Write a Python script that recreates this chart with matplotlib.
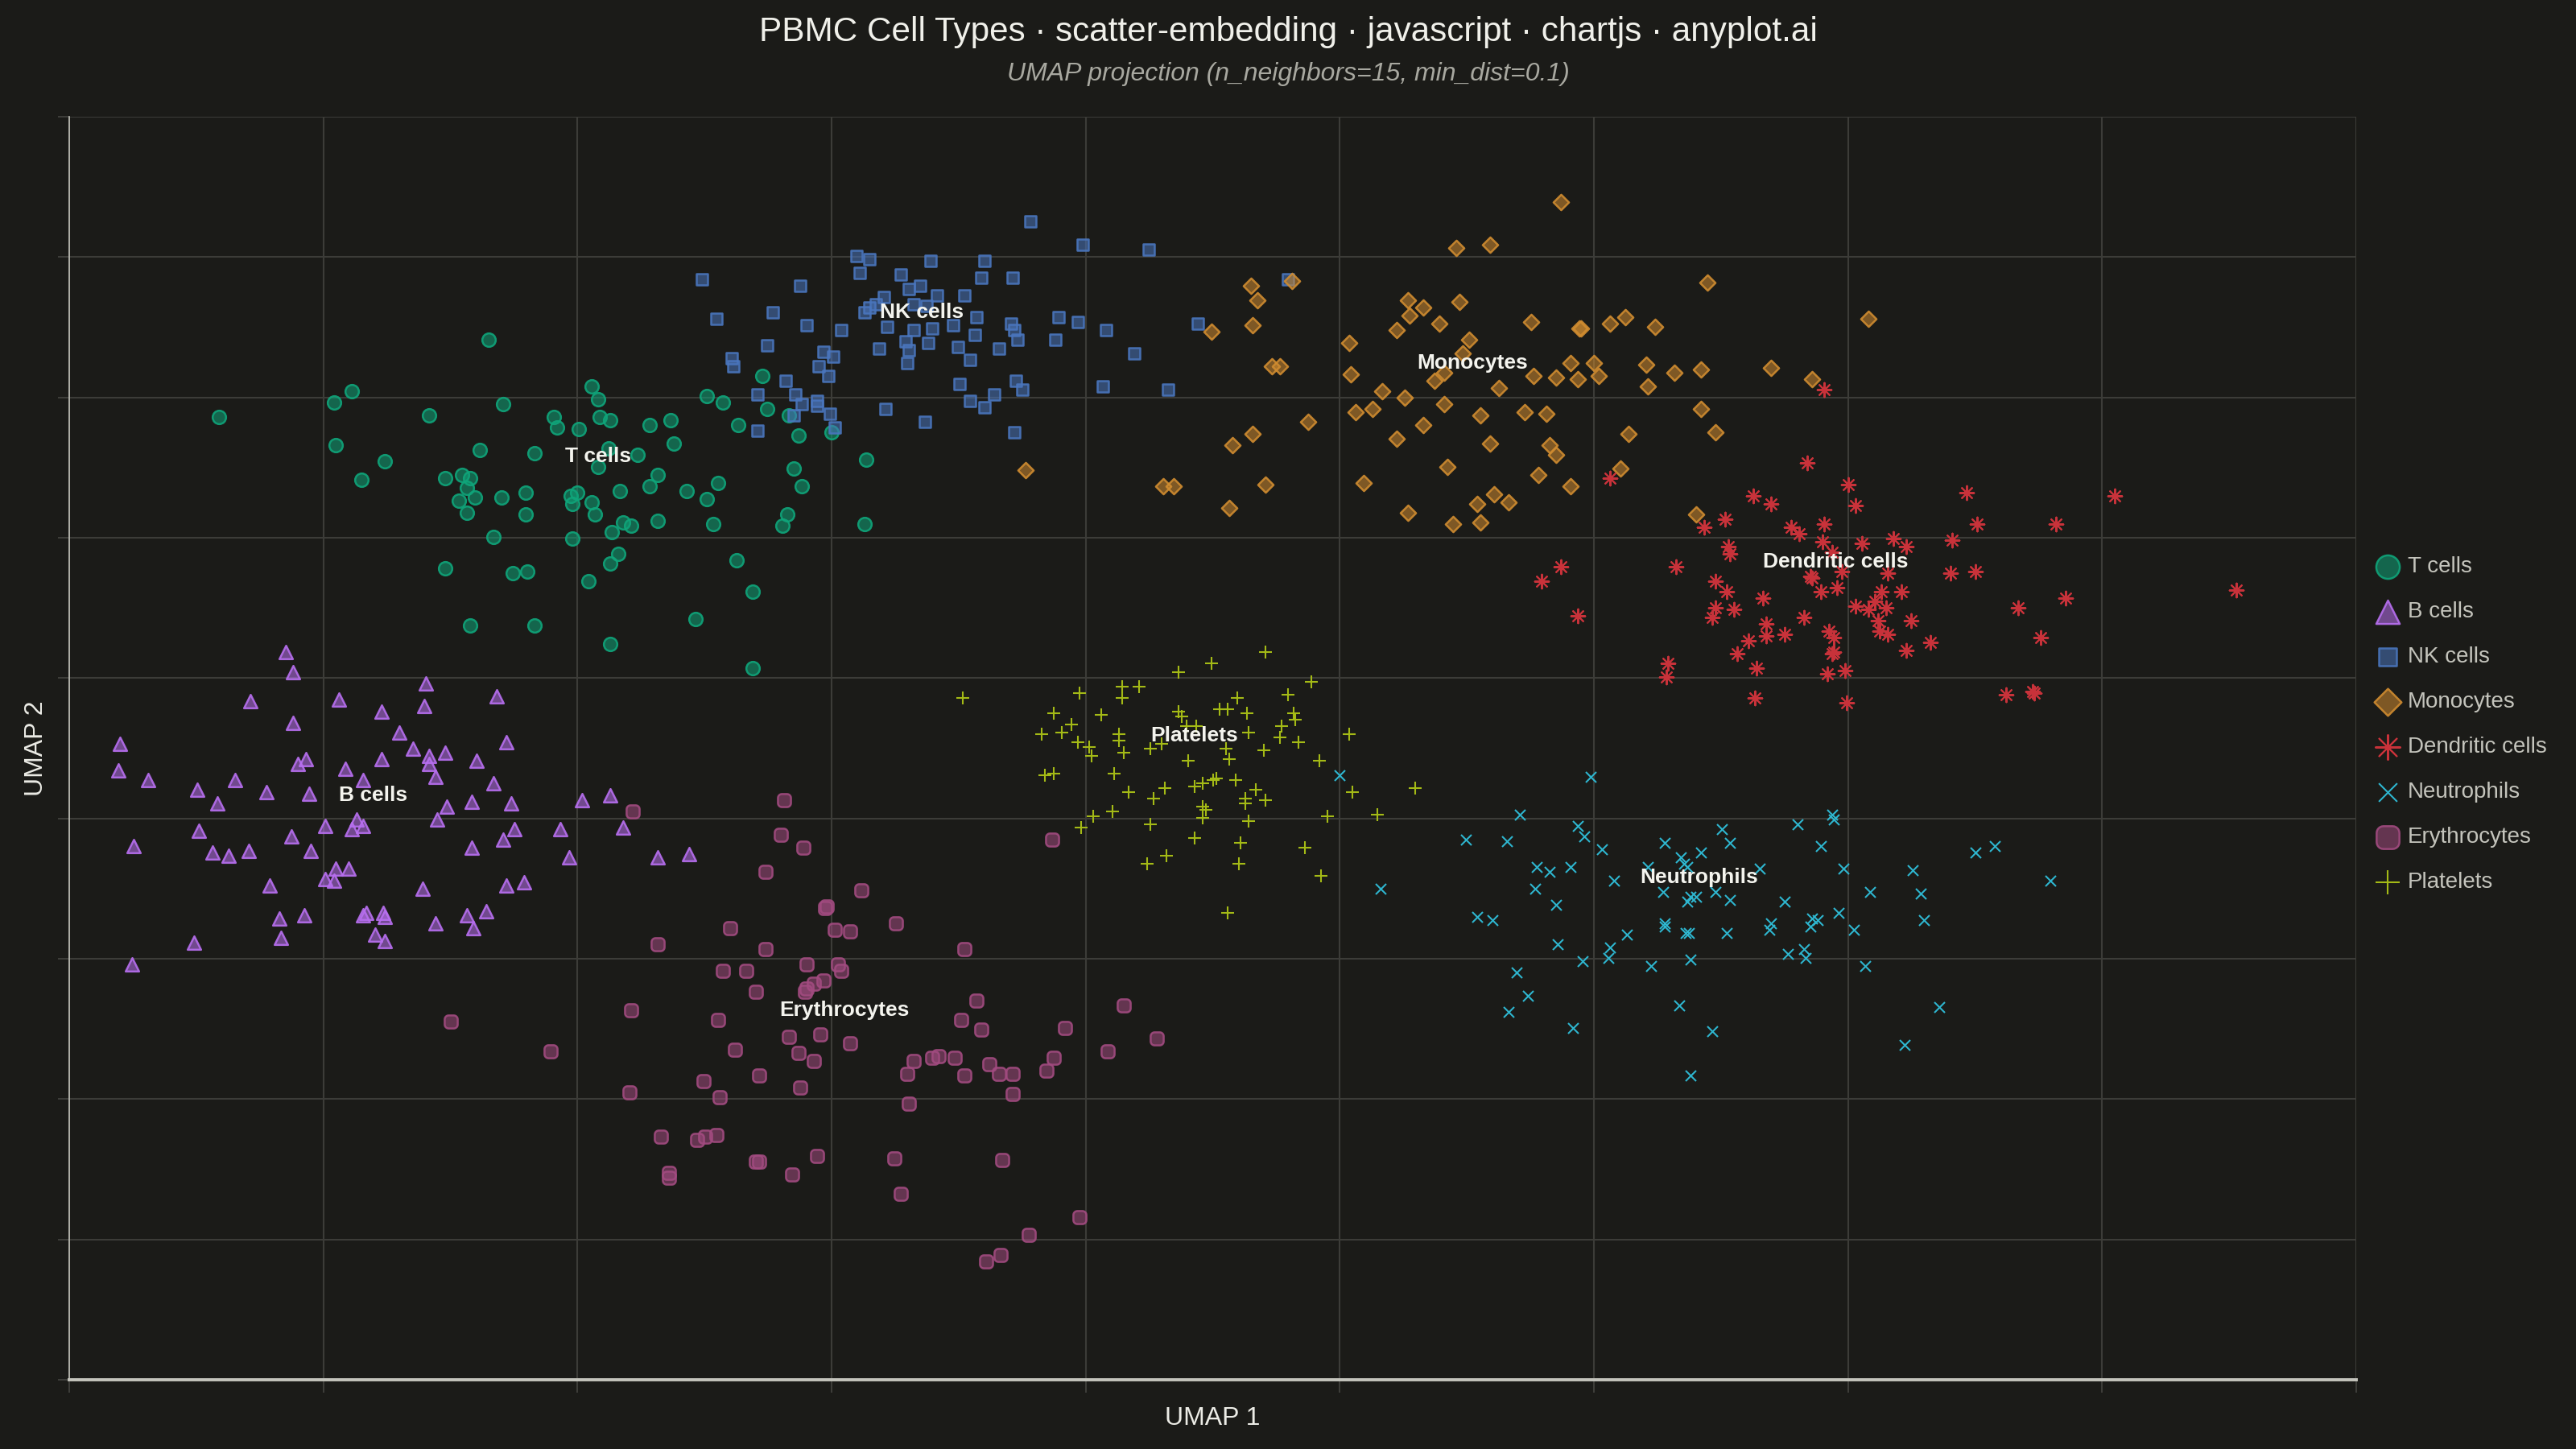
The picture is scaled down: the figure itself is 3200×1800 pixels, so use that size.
import matplotlib
matplotlib.use("Agg")
import matplotlib.pyplot as plt
from matplotlib.path import Path
import numpy as np

plt.rcParams['font.family'] = ['Liberation Sans', 'DejaVu Sans']

BG = '#1b1b18'

# embedding coordinates (arbitrary UMAP units)
t_x = [9.1, 25.5, 17.2, 16.1, 16.2, 19.2, 17.8, 21.9, 26.4, 25.0, 22.9, 23.9, 24.4, 24.2, 23.7, 24.7,
       24.2, 26.3, 27.8, 27.8, 28.3, 29.5, 29.7, 31.0, 31.8, 32.2, 32.3, 32.9, 32.8, 34.6, 32.2, 30.5,
       30.9, 30.6, 31.8, 32.0, 33.5, 35.3, 36.6, 36.8, 35.8, 35.3, 37.6, 39.5, 38.8, 33.7, 34.2, 33.0,
       35.8, 39.2, 30.6, 25.8, 33.4, 32.9, 22.9, 27.0, 27.9, 31.6, 40.6, 41.6, 38.1, 24.4, 28.3, 32.9,
       41.6, 38.8, 39.8, 42.2, 40.7, 42.5, 43.8, 44.4, 46.4, 44.1, 44.6, 43.7, 43.4, 48.5, 48.4]
t_y = [58.6, 63.3, 60.2, 59.5, 56.9, 55.9, 54.8, 58.7, 59.4, 56.6, 54.9, 55.1, 54.9, 54.3, 53.5, 53.7,
       52.8, 53.7, 54.0, 52.7, 56.4, 58.6, 58.0, 57.9, 60.5, 59.7, 58.6, 58.4, 56.7, 56.3, 55.6, 53.8,
       54.0, 53.3, 53.4, 52.7, 54.1, 58.1, 58.4, 57.0, 55.1, 54.4, 54.1, 54.6, 53.6, 52.2, 52.0, 51.6,
       52.3, 52.1, 51.2, 51.3, 50.3, 49.7, 49.4, 49.1, 49.2, 48.6, 49.9, 48.0, 46.3, 45.9, 45.9, 44.8,
       43.3, 59.9, 59.5, 61.1, 58.1, 59.1, 58.7, 57.5, 57.7, 55.5, 54.4, 52.7, 52.0, 56.0, 52.1]

b_x = [13.2, 13.6, 21.7, 11.0, 16.4, 26.0, 19.0, 21.6, 13.6, 20.1, 3.1, 26.6, 20.9, 21.9, 22.9, 21.9,
       14.4, 13.9, 19.0, 24.8, 3.0, 16.8, 4.8, 10.1, 17.9, 22.3, 25.8, 7.8, 12.0, 14.6, 9.0, 23.0,
       24.5, 26.9, 31.2, 32.9, 17.5, 17.9, 17.2, 15.6, 22.4, 7.9, 27.1, 29.9, 33.7, 13.5, 26.4, 3.9,
       8.7, 9.7, 10.9, 14.7, 24.5, 30.4, 35.8, 37.7, 16.2, 17.0, 15.6, 16.1, 12.2, 21.5, 26.6, 27.7,
       12.8, 14.3, 17.9, 18.1, 19.1, 19.2, 24.2, 25.4, 22.3, 24.6, 18.6, 19.2, 7.6, 12.9, 3.8]
b_y = [44.3, 43.1, 42.4, 41.3, 41.4, 41.6, 40.7, 41.0, 40.0, 39.4, 38.7, 38.8, 38.4, 38.0, 38.2, 37.5,
       37.8, 37.5, 37.8, 37.7, 37.1, 37.2, 36.5, 36.5, 36.5, 36.7, 36.3, 35.9, 35.8, 35.7, 35.1, 34.9,
       35.2, 35.1, 35.3, 35.6, 34.1, 33.7, 33.5, 33.7, 34.1, 33.4, 33.5, 33.5, 33.6, 33.1, 32.9, 32.5,
       32.1, 31.9, 32.2, 32.2, 32.4, 31.8, 31.8, 32.0, 31.1, 31.1, 30.5, 30.4, 30.1, 29.9, 30.1, 30.3,
       28.1, 28.3, 28.3, 28.4, 28.4, 28.2, 28.3, 28.5, 27.8, 27.5, 27.1, 26.7, 26.6, 26.9, 25.3]

nk_x = [58.5, 61.7, 65.7, 47.9, 48.7, 52.4, 55.7, 38.5, 48.1, 50.6, 55.5, 57.4, 44.5, 51.1, 51.8, 52.8,
        54.5, 49.6, 49.1, 48.7, 48.4, 51.4, 52.2, 39.4, 42.8, 55.2, 44.9, 47.0, 49.8, 51.4, 52.5, 53.8,
        57.3, 57.5, 60.2, 61.4, 63.1, 68.7, 74.2, 42.5, 50.9, 52.3, 54.1, 55.1, 56.6, 57.7, 60.0, 49.3,
        51.1, 40.3, 40.4, 45.9, 46.5, 45.6, 46.2, 51.0, 54.8, 64.8, 43.6, 41.9, 44.2, 45.5, 45.5, 44.6,
        46.3, 44.1, 46.6, 41.9, 49.7, 52.1, 54.2, 57.6, 58.0, 56.3, 54.8, 55.7, 57.5, 62.9, 66.9]
nk_y = [70.5, 69.1, 68.8, 68.4, 68.2, 68.1, 68.1, 67.0, 67.4, 67.3, 67.1, 67.1, 66.6, 66.4, 66.6, 66.0,
        66.0, 65.9, 65.5, 65.3, 65.0, 65.5, 65.4, 64.6, 65.0, 64.7, 64.2, 63.9, 64.1, 63.9, 64.0, 64.2,
        64.3, 63.9, 64.7, 64.4, 63.9, 64.3, 67.0, 63.0, 63.2, 63.1, 62.9, 63.6, 62.8, 63.3, 63.3, 62.8,
        62.7, 62.2, 61.7, 62.6, 62.3, 61.7, 61.1, 61.9, 62.1, 62.5, 60.8, 60.0, 60.0, 59.6, 59.3, 59.4,
        58.8, 58.7, 58.0, 57.8, 59.1, 58.3, 60.6, 60.8, 60.3, 60.0, 59.6, 59.2, 57.7, 60.5, 60.3]

mono_x = [90.8, 84.4, 86.5, 74.4, 71.9, 72.3, 99.7, 81.5, 82.4, 81.6, 84.6, 72.0, 69.5, 89.0, 91.9, 92.0,
          93.8, 94.7, 96.5, 109.5, 80.8, 83.4, 85.2, 77.9, 84.8, 73.2, 73.7, 78.0, 83.7, 91.4, 92.8, 96.0,
          97.7, 99.3, 103.6, 106.1, 89.1, 90.5, 91.8, 93.1, 96.1, 83.1, 87.0, 79.9, 81.3, 83.7, 78.3, 79.3,
          85.9, 88.6, 89.9, 99.3, 100.2, 94.9, 75.4, 82.4, 72.0, 70.8, 80.8, 86.5, 90.1, 90.5, 83.9, 94.4,
          89.4, 91.4, 58.2, 66.6, 67.2, 72.8, 78.8, 86.7, 87.6, 85.7, 70.6, 81.5, 84.2, 85.9, 99.0]
mono_y = [71.7, 68.9, 69.1, 66.9, 66.6, 65.7, 66.8, 65.7, 65.3, 64.8, 65.6, 64.2, 63.8, 64.4, 64.0, 64.0,
          64.3, 64.7, 64.1, 64.6, 63.9, 64.3, 63.3, 63.1, 62.5, 61.7, 61.7, 61.2, 61.3, 61.9, 61.9, 61.8,
          61.3, 61.5, 61.6, 60.9, 61.1, 61.0, 60.9, 61.1, 60.5, 60.8, 60.4, 60.2, 59.8, 59.4, 58.9, 59.1,
          58.7, 58.9, 58.8, 59.1, 57.7, 57.6, 58.3, 58.1, 57.6, 56.9, 57.3, 57.0, 56.9, 56.3, 55.6, 55.5,
          55.1, 54.4, 55.4, 54.4, 54.4, 54.5, 54.6, 53.9, 53.4, 53.3, 53.1, 52.8, 52.1, 52.2, 52.7]

dc_x = [106.8, 105.8, 93.8, 108.3, 115.5, 124.5, 102.5, 103.6, 108.7, 100.8, 99.5, 106.8, 104.8, 105.3,
        116.1, 120.9, 106.7, 109.1, 111.0, 111.8, 114.6, 101.0, 101.1, 107.3, 90.8, 97.8, 89.6, 106.0,
        106.1, 107.9, 110.7, 114.5, 116.0, 100.2, 100.9, 103.1, 106.6, 107.6, 110.3, 111.5, 131.9, 121.5,
        100.2, 101.3, 108.7, 109.5, 109.9, 110.6, 118.6, 91.8, 100.0, 105.6, 110.1, 112.1, 103.3, 107.1,
        107.4, 104.4, 103.3, 110.2, 110.7, 120.0, 102.2, 113.3, 107.4, 107.3, 111.8, 101.5, 97.3, 97.2,
        102.7, 107.0, 108.1, 102.6, 108.2, 117.9, 119.5, 119.6]
dc_y = [60.3, 55.8, 54.9, 54.5, 54.0, 53.8, 53.8, 53.3, 53.2, 52.4, 51.9, 52.1, 51.9, 51.5,
        52.1, 52.1, 51.0, 50.9, 51.2, 50.7, 51.1, 50.7, 50.3, 50.4, 49.5, 49.5, 48.6, 48.9,
        48.8, 49.2, 49.1, 49.1, 49.2, 48.6, 48.0, 47.6, 48.0, 48.2, 48.0, 48.0, 48.1, 47.6,
        47.0, 46.9, 47.1, 46.9, 47.4, 47.0, 47.0, 46.5, 46.4, 46.4, 46.2, 46.2, 46.0, 45.6,
        45.2, 45.4, 45.3, 45.6, 45.4, 45.2, 45.0, 44.9, 44.3, 44.2, 44.4, 44.2, 43.6, 42.8,
        43.3, 43.0, 43.2, 41.5, 41.2, 41.7, 41.9, 41.8]

neu_x = [77.3, 92.6, 88.3, 91.8, 92.2, 85.0, 87.5, 93.3, 100.6, 105.2, 107.3, 107.4, 97.1, 101.1, 106.6,
         116.0, 117.2, 99.3, 98.1, 98.3, 98.5, 89.3, 90.1, 91.4, 102.9, 108.0, 112.2, 120.6, 94.0, 79.8,
         89.2, 97.0, 98.7, 99.0, 98.5, 100.2, 101.1, 104.4, 109.6, 112.7, 90.5, 85.7, 86.6, 107.7, 106.1,
         106.4, 106.0, 97.1, 97.1, 103.6, 103.5, 108.6, 112.9, 94.8, 98.4, 98.6, 100.9, 90.6, 93.8, 93.7,
         92.1, 96.3, 98.7, 104.6, 105.6, 105.7, 109.3, 88.1, 88.8, 87.6, 98.0, 113.8, 91.5, 100.0, 111.7,
         98.7, 96.1]
neu_y = [36.8, 36.7, 34.4, 33.7, 33.1, 32.9, 32.8, 32.3, 33.5, 33.8, 34.4, 34.1, 32.7, 32.7, 32.5,
         32.1, 32.5, 32.1, 31.8, 31.4, 31.2, 31.2, 30.9, 31.2, 31.1, 31.1, 31.0, 30.4, 30.4, 29.9,
         29.9, 29.7, 29.4, 29.4, 29.1, 29.7, 29.2, 29.1, 29.7, 29.6, 28.9, 28.2, 28.0, 28.4, 28.1,
         28.0, 27.6, 27.8, 27.6, 27.8, 27.4, 27.4, 28.0, 27.1, 27.2, 27.2, 27.2, 26.5, 26.3, 25.7,
         25.5, 25.2, 25.6, 25.9, 26.2, 25.7, 25.2, 24.8, 23.4, 22.4, 22.8, 22.7, 21.4, 21.2, 20.4,
         18.5, 31.2]

ery_x = [43.5, 34.3, 43.3, 44.7, 59.8, 42.4, 48.2, 46.1, 46.0, 50.3, 40.2, 46.6, 47.5, 35.8, 42.4, 54.5,
         44.9, 46.8, 47.0, 39.8, 41.2, 45.9, 45.3, 44.9, 44.8, 41.8, 55.2, 64.2, 34.2, 23.2, 39.5, 54.3,
         55.5, 60.6, 66.2, 43.8, 45.7, 47.5, 40.5, 63.2, 29.3, 44.4, 45.3, 51.4, 52.5, 52.9, 53.9, 56.0,
         59.9, 51.0, 54.5, 56.6, 57.4, 59.5, 38.6, 42.0, 44.5, 34.1, 39.6, 57.4, 51.1, 36.0, 38.7, 38.2,
         39.4, 41.8, 42.0, 45.5, 50.2, 56.8, 36.5, 36.5, 44.0, 50.6, 61.5, 58.4, 56.7, 55.8]
ery_y = [35.3, 34.6, 33.2, 32.4, 32.9, 30.9, 29.8, 28.8, 28.7, 27.8, 27.5, 27.4, 27.3, 26.5, 26.2, 26.2,
         25.3, 25.3, 24.9, 24.9, 24.9, 24.3, 24.1, 23.8, 23.6, 23.6, 23.1, 22.8, 22.5, 21.8, 21.9, 21.9,
         21.3, 21.4, 20.8, 20.9, 21.0, 20.5, 20.1, 20.0, 20.0, 19.9, 19.4, 19.4, 19.6, 19.7, 19.6, 19.2,
         19.6, 18.6, 18.5, 18.6, 18.6, 18.8, 18.2, 18.5, 17.8, 17.5, 17.2, 17.4, 16.8, 14.8, 14.8, 14.6,
         14.9, 13.3, 13.3, 13.6, 13.5, 13.4, 12.6, 12.3, 12.5, 11.3, 9.9, 8.8, 7.6, 7.2]

plt_x = [72.8, 69.5, 67.5, 75.6, 54.4, 61.5, 64.1, 65.1, 64.1, 74.2, 71.1, 59.9, 62.8, 67.5, 67.7, 70.0,
         70.5, 71.7, 74.5, 74.6, 73.8, 61.0, 59.2, 60.4, 63.9, 63.9, 71.8, 73.7, 77.9, 61.4, 62.1, 62.2,
         74.8, 64.2, 65.8, 66.5, 68.0, 68.6, 70.4, 70.6, 72.7, 68.1, 76.1, 59.4, 59.9, 63.6, 69.8, 69.6,
         71.0, 69.0, 68.5, 66.7, 64.5, 72.2, 66.0, 71.6, 71.6, 72.8, 78.1, 81.9, 69.0, 69.2, 69.0, 63.5,
         62.3, 76.6, 79.6, 65.8, 71.8, 61.6, 68.5, 71.3, 75.2, 66.8, 65.6, 71.2, 76.2, 70.5]
plt_y = [44.3, 43.6, 43.1, 42.5, 41.5, 41.8, 42.2, 42.2, 41.5, 41.7, 41.5, 40.6, 40.5, 40.7, 40.4, 40.8,
         40.8, 40.6, 40.6, 40.2, 39.8, 39.9, 39.3, 39.4, 39.3, 38.9, 39.4, 39.1, 39.3, 38.8, 38.5, 38.0,
         38.8, 38.2, 38.4, 38.7, 39.8, 39.8, 38.4, 37.8, 38.3, 37.7, 37.7, 36.8, 36.9, 36.9, 36.6, 36.5,
         36.5, 36.3, 36.1, 36.0, 35.8, 35.9, 35.4, 35.4, 35.1, 35.3, 35.8, 36.0, 34.9, 34.7, 34.2, 34.6,
         34.3, 34.3, 34.4, 33.8, 34.0, 33.6, 33.0, 32.7, 32.4, 31.9, 31.4, 31.4, 30.7, 28.4]

cell_types = ['T cells', 'B cells', 'NK cells', 'Monocytes', 'Dendritic cells',
              'Neutrophils', 'Erythrocytes', 'Platelets']
xs = [t_x, b_x, nk_x, mono_x, dc_x, neu_x, ery_x, plt_x]
ys = [t_y, b_y, nk_y, mono_y, dc_y, neu_y, ery_y, plt_y]

# where the cluster names sit
label_x = [32.2, 18.5, 51.9, 85.4, 107.5, 99.2, 47.2, 68.5]
label_y = [56.2, 35.6, 65.0, 61.9, 49.8, 30.6, 22.5, 39.2]

# rounded square marker (chart.js "rectRounded")
r = 0.3
corner_verts = []
for cx, cy, a0 in [(0.5 - r, 0.5 - r, 0), (-0.5 + r, 0.5 - r, 90),
                   (-0.5 + r, -0.5 + r, 180), (0.5 - r, -0.5 + r, 270)]:
    for a in np.radians(np.linspace(a0, a0 + 90, 7)):
        corner_verts.append((cx + r * np.cos(a), cy + r * np.sin(a)))
corner_verts.append(corner_verts[0])
rect_rounded = Path(corner_verts, closed=True)

colors = ['#0fa57a', '#b86ff0', '#4a76be', '#d08c30', '#c8323a', '#2eb6cf', '#a24b80', '#a4ba16']
markers = ['o', '^', 's', 'D', (8, 2, 0), 'x', rect_rounded, '+']
sizes = [36, 36, 22, 24, 40, 22, 34, 36]
filled = [True, True, True, True, False, False, True, False]

fig = plt.figure(figsize=(16, 9), dpi=200, facecolor=BG)
ax = fig.add_axes([0.0269, 0.0478, 0.8878, 0.8717], facecolor=BG)

handles = []
for i, name in enumerate(cell_types):
    c = colors[i]
    if filled[i]:
        sc = ax.scatter(xs[i], ys[i], s=sizes[i], marker=markers[i],
                        facecolor=matplotlib.colors.to_rgba(c, 0.55),
                        edgecolor=matplotlib.colors.to_rgba(c, 0.9),
                        linewidths=0.9, label=name, zorder=3)
    else:
        sc = ax.scatter(xs[i], ys[i], s=sizes[i], marker=markers[i],
                        color=c, linewidths=0.75, label=name, zorder=3)
    handles.append(sc)

for i, name in enumerate(cell_types):
    ax.text(label_x[i], label_y[i], name, ha='center', va='center',
            fontsize=9.5, fontweight='bold', color='#f4f4ee', zorder=5)

xmax, ymax = 139.2, 76.9
ax.set_xlim(0, xmax)
ax.set_ylim(0, ymax)
ax.set_xticks(np.linspace(0, xmax, 10))
ax.set_yticks(np.linspace(0, ymax, 10))
ax.tick_params(axis='x', length=5.8, width=0.7, color='#3e3e3a', labelbottom=False)
ax.tick_params(axis='y', length=5.0, width=0.7, color='#3e3e3a', labelleft=False)
ax.grid(True, color='#3c3c38', linewidth=0.75)
ax.set_axisbelow(True)
for side in ['top', 'right']:
    ax.spines[side].set_visible(False)
ax.spines['left'].set_color('#c4c4bc')
ax.spines['left'].set_linewidth(0.6)
ax.spines['bottom'].set_color('#c4c4bc')
ax.spines['bottom'].set_linewidth(1.4)

ax.set_xlabel('UMAP 1', fontsize=11.5, color='#ececE6', labelpad=6)
ax.set_ylabel('UMAP 2', fontsize=11.5, color='#ececE6', labelpad=4.5)

fig.text(0.5, 0.978, 'PBMC Cell Types · scatter-embedding · javascript · chartjs · anyplot.ai',
         ha='center', va='center', fontsize=15.2, color='#f0f0ea')
fig.text(0.5, 0.949, 'UMAP projection (n_neighbors=15, min_dist=0.1)',
         ha='center', va='center', fontsize=11.5, style='italic', color='#a8a8a0')

leg = fig.legend(handles=handles, loc='center left', bbox_to_anchor=(0.9148, 0.5),
                 frameon=False, fontsize=10, labelcolor='#c4c4bc', markerscale=1.75,
                 handlelength=1.0, handletextpad=0.38, labelspacing=1.08, scatterpoints=1)

fig.savefig('out.png', dpi=200, facecolor=BG)
